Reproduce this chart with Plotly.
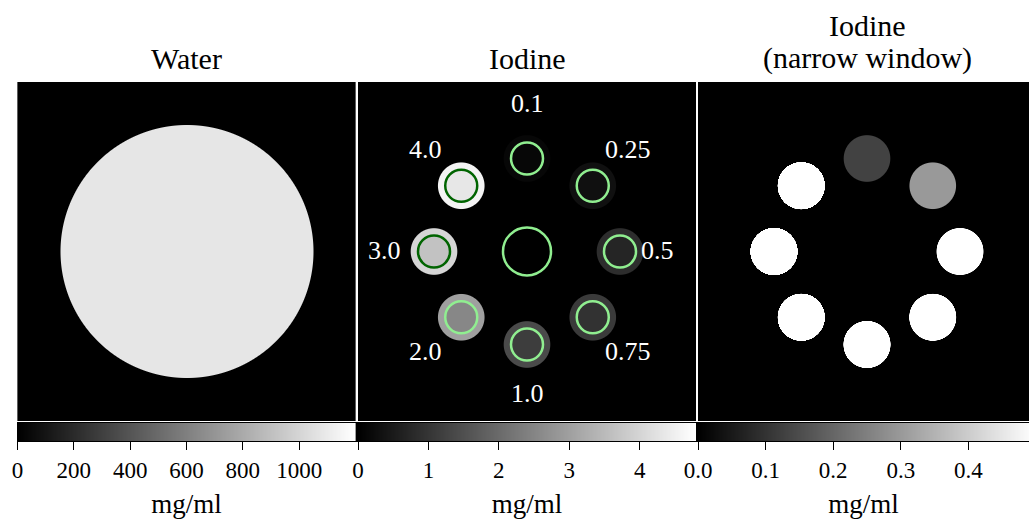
import numpy as np
import plotly.graph_objects as go

# ---------------- data ----------------
panel_titles = [["Water"], ["Iodine"], ["Iodine", "(narrow window)"]]
water_density = 1080.0                     # mg/ml, displayed value of water disk
insert_labels = ["0.1", "0.25", "0.5", "0.75", "1.0", "2.0", "3.0", "4.0"]
insert_nominal = [0.1, 0.25, 0.5, 0.75, 1.0, 2.0, 3.0, 4.0]
insert_core_values = [0.13, 0.30, 0.70, 0.95, 1.15, 2.55, 3.65, 4.35]
insert_rim_values = [0.13, 0.30, 0.85, 1.10, 1.40, 3.00, 4.00, 4.60]
insert_angles_deg = [90, 45, 0, -45, -90, -135, 180, 135]
cbar_max = [1200.0, 4.8, 0.5]
cbar_tickvals = [[0, 200, 400, 600, 800, 1000], [0, 1, 2, 3, 4], [0.0, 0.1, 0.2, 0.3, 0.4]]
cbar_ticktext = [["0", "200", "400", "600", "800", "1000"],
                 ["0", "1", "2", "3", "4"],
                 ["0.0", "0.1", "0.2", "0.3", "0.4"]]
cbar_title = "mg/ml"

# ---------------- geometry / layout (pixels) ----------------
W, H = 1029, 523
panel_left = [17.5, 358.0, 698.0]
panel_w = 338.0
img_top, img_bot = 82.0, 421.0
cb_top, cb_bot = 423.0, 441.0
NX, NY = 338, 339
water_r = 126.5
ring_r = 93.0
insert_r = 23.3
core_r = 16.0
roi_r = 16.0
center_roi_r = 24.0
label_r = [147, 143, 130, 143, 143, 143, 143, 143]
title_line_y = [58, 25]   # centre of last line, line above it
FONT = "Liberation Serif, Times New Roman, serif"

xs = np.arange(NX) - (NX - 1) / 2.0
ys = np.arange(NY) - (NY - 1) / 2.0
XX, YY = np.meshgrid(xs, ys)


def disk(cx, cy, r):
    d = np.sqrt((XX - cx) ** 2 + (YY - cy) ** 2)
    return np.clip(r - d + 0.5, 0.0, 1.0)


water_img = water_density * disk(0, 0, water_r)
iodine_img = np.zeros_like(XX)
centers = []
for ang, core, rim in zip(insert_angles_deg, insert_core_values, insert_rim_values):
    cx = ring_r * np.cos(np.radians(ang))
    cy = ring_r * np.sin(np.radians(ang))
    centers.append((cx, cy))
    iodine_img += rim * disk(cx, cy, insert_r) + (core - rim) * disk(cx, cy, core_r)

images = [water_img, iodine_img, iodine_img]
gray = [[0, "black"], [1, "white"]]

fig = go.Figure()

def px2fx(px):
    return px / W

def py2fy(py):
    return 1 - py / H

layout = dict(
    width=W, height=H, margin=dict(l=0, r=0, t=0, b=0, autoexpand=False),
    paper_bgcolor="white", plot_bgcolor="black", showlegend=False,
    font=dict(family=FONT, color="black"),
)

half = NX / 2.0
for i in range(3):
    ix = i + 1
    cx = i + 4
    x0 = panel_left[i]
    x1 = min(panel_left[i] + panel_w, W)
    frac = (x1 - x0) / panel_w
    dom = [px2fx(x0), px2fx(x1)]
    # image
    fig.add_trace(go.Heatmap(
        z=images[i], x=xs, y=ys, colorscale=gray, zmin=0, zmax=cbar_max[i],
        showscale=False, zsmooth=False, hoverinfo="skip",
        xaxis=f"x{ix}", yaxis=f"y{ix}"))
    layout[f"xaxis{ix}"] = dict(domain=dom, range=[-half, -half + panel_w * frac],
                                visible=False, anchor=f"y{ix}", automargin=False)
    layout[f"yaxis{ix}"] = dict(domain=[py2fy(img_bot), py2fy(img_top)],
                                range=[-NY / 2.0, NY / 2.0], visible=False,
                                anchor=f"x{ix}", automargin=False)
    # colorbar strip
    edges = np.linspace(0, cbar_max[i], 257)
    mids = [(edges[:-1] + edges[1:]) / 2.0]
    fig.add_trace(go.Heatmap(
        z=mids, x=edges, y=[0, 1], colorscale=gray, zmin=0, zmax=cbar_max[i],
        showscale=False, hoverinfo="skip", xaxis=f"x{cx}", yaxis=f"y{cx}"))
    layout[f"xaxis{cx}"] = dict(
        domain=dom, range=[0, cbar_max[i] * frac], anchor=f"y{cx}", automargin=False,
        tickmode="array", tickvals=cbar_tickvals[i], ticktext=cbar_ticktext[i],
        ticks="outside", ticklen=8, tickwidth=1.2, tickcolor="black",
        showline=True, mirror=True, linecolor="black", linewidth=1.2,
        showgrid=False, zeroline=False,
        tickfont=dict(family=FONT, size=23, color="black"),
        title=dict(text=cbar_title, font=dict(family=FONT, size=27, color="black"), standoff=12),
    )
    layout[f"yaxis{cx}"] = dict(
        domain=[py2fy(cb_bot), py2fy(cb_top)], range=[0, 1], anchor=f"x{cx}",
        automargin=False,
        showline=True, mirror=(i < 2), linecolor="black", linewidth=1.2,
        showticklabels=False, ticks="", showgrid=False, zeroline=False)

# ROI rings in iodine panel
shapes = []
for (cxp, cyp), nom in zip(centers, insert_nominal):
    col = "#006400" if nom >= 3.0 else "#90ee90"
    shapes.append(dict(type="circle", xref="x2", yref="y2",
                       x0=cxp - roi_r, x1=cxp + roi_r, y0=cyp - roi_r, y1=cyp + roi_r,
                       line=dict(color=col, width=2.5)))
shapes.append(dict(type="circle", xref="x2", yref="y2",
                   x0=-center_roi_r, x1=center_roi_r, y0=-center_roi_r, y1=center_roi_r,
                   line=dict(color="#90ee90", width=2.5)))
layout["shapes"] = shapes

annotations = []
for lab, ang, lr in zip(insert_labels, insert_angles_deg, label_r):
    annotations.append(dict(
        x=lr * np.cos(np.radians(ang)), y=lr * np.sin(np.radians(ang)) + 1,
        xref="x2", yref="y2", text=lab, showarrow=False,
        xanchor="center", yanchor="middle",
        font=dict(family=FONT, size=26, color="white")))
for i, lines in enumerate(panel_titles):
    for k, line in enumerate(reversed(lines)):
        annotations.append(dict(
            x=px2fx(panel_left[i] + panel_w / 2.0), y=py2fy(title_line_y[k]),
            xref="paper", yref="paper",
            text=line, showarrow=False, xanchor="center", yanchor="middle",
            font=dict(family=FONT, size=30, color="black")))
layout["annotations"] = annotations

fig.update_layout(**layout)
fig.write_html("out.html", config={"displayModeBar": False},
               post_script="document.body.style.margin='0px';document.body.style.overflow='hidden';")
